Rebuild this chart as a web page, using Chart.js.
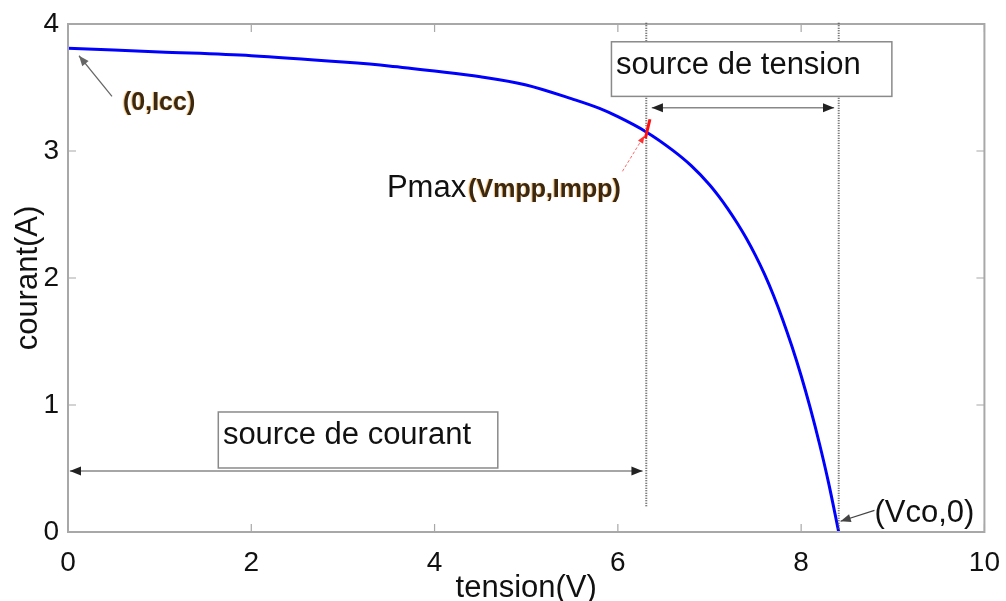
<!DOCTYPE html>
<html>
<head>
<meta charset="utf-8">
<script src="https://cdn.jsdelivr.net/npm/chart.js@4.4.1/dist/chart.umd.min.js"></script>
<style>
  html, body { margin: 0; padding: 0; background: #fff; }
  #wrap { width: 1006px; height: 601px; }
</style>
</head>
<body>
<div id="wrap"><canvas id="ivChart" width="1006" height="601"></canvas></div>
<script>
// Caractéristique I(V) d'une cellule photovoltaïque
const tension = [0, 1, 2, 3, 3.5, 4, 4.5, 5, 5.5, 5.8, 6.0, 6.31, 6.6, 6.8, 7.0, 7.1, 7.2, 7.3, 7.4, 7.5, 7.6, 7.7, 7.8, 7.9, 8.0, 8.1, 8.2, 8.3, 8.41];
const courant = [3.81, 3.78, 3.75, 3.70, 3.67, 3.63, 3.585, 3.52, 3.41, 3.335, 3.27, 3.15, 3.005, 2.885, 2.735, 2.645, 2.545, 2.435, 2.315, 2.18, 2.03, 1.86, 1.67, 1.46, 1.23, 0.975, 0.695, 0.385, 0];
const xTicks = [0, 2, 4, 6, 8, 10];
const yTicks = [0, 1, 2, 3, 4];

// points remarquables
const Vmpp = 6.31, Impp = 3.15;
const Vco = 8.41, Icc = 3.81;

const FONT = "'Liberation Sans', Arial, sans-serif";

function arrowHead(ctx, x1, y1, x2, y2, size) {
    const ang = Math.atan2(y2 - y1, x2 - x1);
    ctx.beginPath();
    ctx.moveTo(x2, y2);
    ctx.lineTo(x2 - size * Math.cos(ang - 0.38), y2 - size * Math.sin(ang - 0.38));
    ctx.lineTo(x2 - size * Math.cos(ang + 0.38), y2 - size * Math.sin(ang + 0.38));
    ctx.closePath();
    ctx.fill();
}

function arrow(ctx, x1, y1, x2, y2, color, size) {
    ctx.strokeStyle = color;
    ctx.fillStyle = color;
    ctx.beginPath();
    ctx.moveTo(x1, y1);
    ctx.lineTo(x2, y2);
    ctx.stroke();
    arrowHead(ctx, x1, y1, x2, y2, size);
}

function textBox(ctx, x1, y1, x2, y2, label, tx, ty) {
    ctx.fillStyle = '#fff';
    ctx.fillRect(x1, y1, x2 - x1, y2 - y1);
    ctx.strokeStyle = '#8a8a8a';
    ctx.lineWidth = 1.5;
    ctx.strokeRect(x1, y1, x2 - x1, y2 - y1);
    ctx.fillStyle = '#111';
    ctx.font = '31px ' + FONT;
    ctx.textBaseline = 'alphabetic';
    ctx.textAlign = 'left';
    ctx.fillText(label, tx, ty);
}

// cadre, graduations internes et annotations
const annotations = {
    id: 'annotations',
    afterDraw(chart) {
        const { ctx, chartArea: a, scales: { x, y } } = chart;
        const px = v => x.getPixelForValue(v);
        const py = v => y.getPixelForValue(v);
        ctx.save();

        // cadre
        ctx.strokeStyle = '#a8a8a8';
        ctx.lineWidth = 2;
        ctx.strokeRect(a.left, a.top, a.width, a.height);
        ctx.lineWidth = 1.2;
        ctx.beginPath();
        xTicks.forEach(t => {
            ctx.moveTo(px(t), a.bottom); ctx.lineTo(px(t), a.bottom - 8);
            ctx.moveTo(px(t), a.top); ctx.lineTo(px(t), a.top + 8);
        });
        yTicks.forEach(t => {
            ctx.moveTo(a.left, py(t)); ctx.lineTo(a.left + 8, py(t));
            ctx.moveTo(a.right, py(t)); ctx.lineTo(a.right - 8, py(t));
        });
        ctx.stroke();

        // verticales pointillées en Vmpp et Vco
        ctx.strokeStyle = '#555';
        ctx.lineWidth = 2;
        ctx.setLineDash([1, 1.5]);
        ctx.beginPath();
        ctx.moveTo(px(Vmpp), py(4.01)); ctx.lineTo(px(Vmpp), py(0.19));
        ctx.moveTo(px(Vco), py(4.01)); ctx.lineTo(px(Vco), py(0.02));
        ctx.stroke();
        ctx.setLineDash([]);

        // zones de fonctionnement
        textBox(ctx, px(5.93), py(3.86), px(8.99), py(3.43), 'source de tension', px(5.98), py(3.61));
        textBox(ctx, px(1.64), py(0.945), px(4.69), py(0.504), 'source de courant', px(1.69), py(0.69));

        ctx.lineWidth = 1.5;
        ctx.strokeStyle = '#888';
        const ty = py(3.34);
        ctx.beginPath(); ctx.moveTo(px(6.37), ty); ctx.lineTo(px(8.36), ty); ctx.stroke();
        ctx.fillStyle = '#222';
        arrowHead(ctx, px(7), ty, px(6.37), ty, 12);
        arrowHead(ctx, px(7.5), ty, px(8.36), ty, 12);

        const cy = py(0.48);
        ctx.beginPath(); ctx.moveTo(px(0.02), cy); ctx.lineTo(px(6.27), cy); ctx.stroke();
        arrowHead(ctx, px(1), cy, px(0.02), cy, 12);
        arrowHead(ctx, px(5), cy, px(6.27), cy, 12);

        // point de puissance maximale
        ctx.strokeStyle = '#ff1010';
        ctx.lineWidth = 3;
        ctx.beginPath();
        ctx.moveTo(px(Vmpp + 0.04), py(Impp + 0.1));
        ctx.lineTo(px(Vmpp - 0.01), py(Impp - 0.05));
        ctx.stroke();
        ctx.lineWidth = 1;
        ctx.setLineDash([3, 2]);
        ctx.strokeStyle = '#ff6a6a';
        ctx.beginPath();
        ctx.moveTo(px(6.05), py(2.84)); ctx.lineTo(px(6.27), py(3.1));
        ctx.stroke();
        ctx.setLineDash([]);
        ctx.fillStyle = '#ff3030';
        arrowHead(ctx, px(6.05), py(2.84), px(6.29), py(3.12), 8);

        ctx.textAlign = 'left';
        ctx.textBaseline = 'alphabetic';
        ctx.fillStyle = '#111';
        ctx.font = '31px ' + FONT;
        ctx.fillText('Pmax', px(3.48), py(2.64));
        const pw = ctx.measureText('Pmax').width;
        ctx.font = 'bold 25px ' + FONT;
        ctx.fillStyle = '#3a2812';
        ctx.shadowColor = 'rgba(235,150,30,0.7)';
        ctx.shadowOffsetX = -1;
        ctx.shadowBlur = 1;
        ctx.fillText('(Vmpp,Impp)', px(3.48) + pw + 2, py(2.64));

        // (0,Icc)
        ctx.fillText('(0,Icc)', px(0.6), py(3.32));
        ctx.shadowColor = 'transparent';
        ctx.lineWidth = 1.2;
        arrow(ctx, px(0.48), py(3.43), px(0.12), py(Icc - 0.06), '#666', 11);

        // (Vco,0)
        ctx.fillStyle = '#111';
        ctx.font = '31px ' + FONT;
        ctx.fillText('(Vco,0)', px(8.8), py(0.08));
        arrow(ctx, px(8.8), py(0.17), px(Vco + 0.02), py(0.085), '#444', 11);

        ctx.restore();
    }
};

const ctx = document.getElementById('ivChart').getContext('2d');
new Chart(ctx, {
    type: 'line',
    data: {
        datasets: [{
            label: 'I(V)',
            data: tension.map((v, i) => ({ x: v, y: courant[i] })),
            borderColor: '#0000ff',
            borderWidth: 3,
            pointRadius: 0,
            cubicInterpolationMode: 'monotone',
            fill: false
        }]
    },
    options: {
        responsive: false,
        animation: false,
        layout: { padding: { top: 24, right: 21, left: 0, bottom: 0 } },
        plugins: { legend: { display: false }, tooltip: { enabled: false } },
        scales: {
            x: {
                type: 'linear',
                min: 0, max: 10,
                afterBuildTicks: s => { s.ticks = xTicks.map(v => ({ value: v })); },
                afterFit: s => { s.height = 69; },
                grid: { display: false },
                border: { display: false },
                ticks: { color: '#111', padding: 6, maxRotation: 0, font: { family: FONT, size: 28 } },
                title: { display: true, text: 'tension(V)', color: '#111', padding: 0,
                         font: { family: FONT, size: 31, lineHeight: 0.8 } }
            },
            y: {
                min: 0, max: 4,
                afterBuildTicks: s => { s.ticks = yTicks.map(v => ({ value: v })); },
                afterFit: s => { s.width = 68; },
                grid: { display: false },
                border: { display: false },
                ticks: { color: '#111', padding: 1, font: { family: FONT, size: 28 } },
                title: { display: true, text: 'courant(A)', color: '#111', padding: { top: 16, bottom: 0 },
                         font: { family: FONT, size: 31, lineHeight: 0.8 } }
            }
        }
    },
    plugins: [annotations]
});
</script>
</body>
</html>
